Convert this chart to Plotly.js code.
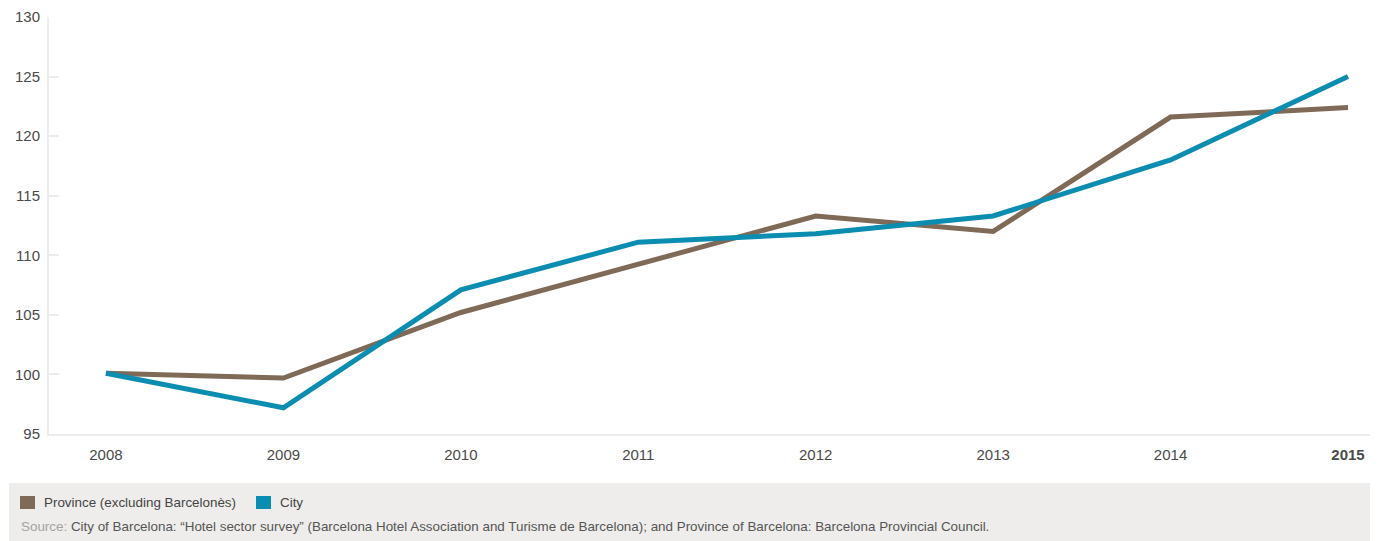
<!DOCTYPE html>
<html>
<head>
<meta charset="utf-8">
<script src="https://cdn.plot.ly/plotly-3.0.1.min.js"></script>
<style>
html,body{margin:0;padding:0;background:#fff;}
#chart{width:1383px;height:541px;}
</style>
</head>
<body>
<div id="chart"></div>
<script>
const years = ["2008","2009","2010","2011","2012","2013","2014","2015"];
const tickLabels = ["2008","2009","2010","2011","2012","2013","2014","<b>2015</b>"];
const provinceName = "Province (excluding Barcelonès)";
const cityName = "City";
const province = [100.1, 99.7, 105.2, 109.2, 113.3, 112.0, 121.6, 122.4];
const city = [100.1, 97.2, 107.1, 111.1, 111.8, 113.3, 118.0, 125.0];
const yTicks = [95, 100, 105, 110, 115, 120, 125, 130];
const sourceLabel = "Source:";
const sourceText = " City of Barcelona: “Hotel sector survey” (Barcelona Hotel Association and Turisme de Barcelona); and Province of Barcelona: Barcelona Provincial Council.";

const provColor = "#7f6a57";
const cityColor = "#0a8db0";
const xIdx = years.map((_, i) => i);

const traces = [
  {x: xIdx, y: province, type: "scatter", mode: "lines", name: provinceName,
   line: {color: provColor, width: 5}, hoverinfo: "skip"},
  {x: xIdx, y: city, type: "scatter", mode: "lines", name: cityName,
   line: {color: cityColor, width: 5}, hoverinfo: "skip"}
];

const W = 1383, H = 541;
const ML = 49, MR = 13, MT = 17, MB = 107;
const plotW = W - ML - MR, plotH = H - MT - MB;
const fx = v => (v - ML) / plotW;
const fy = v => (H - MB - v) / plotH;

const layout = {
  width: W, height: H,
  margin: {l: ML, r: MR, t: MT, b: MB},
  paper_bgcolor: "#ffffff", plot_bgcolor: "#ffffff",
  showlegend: false,
  font: {family: "Liberation Sans, Arial, sans-serif", color: "#555"},
  xaxis: {
    range: [-0.321, 7.124],
    tickmode: "array", tickvals: xIdx, ticktext: tickLabels,
    showgrid: false, zeroline: false,
    showline: true, linecolor: "#ececec", linewidth: 2,
    ticks: "", tickfont: {size: 15, color: "#4a4a4a"},
    ticklabelstandoff: 6, fixedrange: true
  },
  yaxis: {
    range: [95, 130],
    tickmode: "array", tickvals: yTicks,
    showgrid: false, zeroline: false,
    showline: true, linecolor: "#ececec", linewidth: 2,
    ticks: "inside", ticklen: 10, tickwidth: 2, tickcolor: "#ececec",
    tickfont: {size: 15, color: "#4a4a4a"},
    ticklabelstandoff: 4, fixedrange: true
  },
  shapes: [
    {type: "rect", xref: "paper", yref: "paper", layer: "below",
     x0: fx(9), x1: fx(1370), y0: fy(541), y1: fy(483),
     line: {width: 0}, fillcolor: "#eeedeb"},
    {type: "rect", xref: "paper", yref: "paper",
     x0: fx(20), x1: fx(35), y0: fy(509), y1: fy(496),
     line: {width: 0}, fillcolor: provColor},
    {type: "rect", xref: "paper", yref: "paper",
     x0: fx(256), x1: fx(271), y0: fy(509), y1: fy(496),
     line: {width: 0}, fillcolor: cityColor}
  ],
  annotations: [
    {xref: "paper", yref: "paper", x: fx(42), y: fy(502.5), xanchor: "left", yanchor: "middle",
     text: provinceName, showarrow: false, font: {size: 13.4, color: "#444"}},
    {xref: "paper", yref: "paper", x: fx(278), y: fy(502.5), xanchor: "left", yanchor: "middle",
     text: cityName, showarrow: false, font: {size: 13.4, color: "#444"}},
    {xref: "paper", yref: "paper", x: fx(19), y: fy(526), xanchor: "left", yanchor: "middle",
     text: '<span style="color:#a3a3a3">' + sourceLabel + '</span>' + sourceText,
     showarrow: false, font: {size: 13.4, color: "#555"}}
  ]
};

Plotly.newPlot("chart", traces, layout, {displayModeBar: false, staticPlot: true});
</script>
</body>
</html>
